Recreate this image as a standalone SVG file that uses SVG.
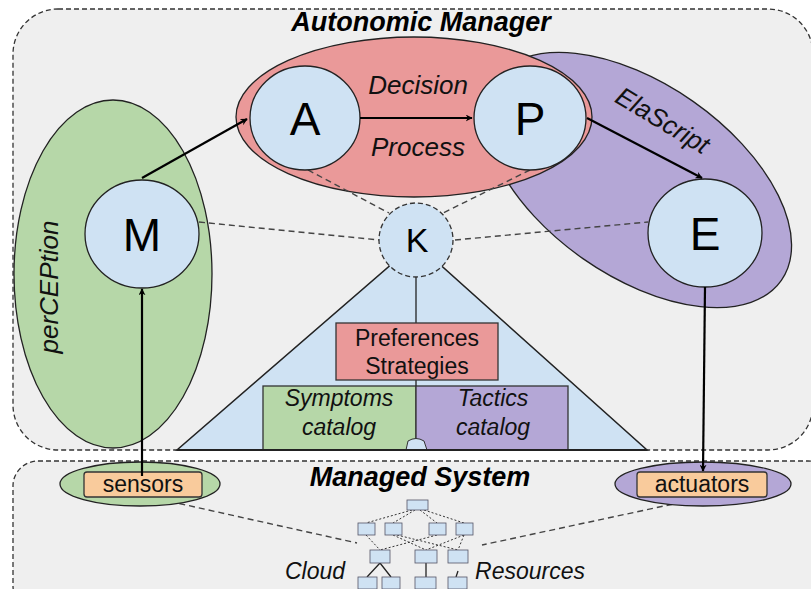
<svg xmlns="http://www.w3.org/2000/svg" width="811" height="589" viewBox="0 0 811 589">
<defs>
<marker id="ah" viewBox="0 0 10 10" refX="9" refY="5" markerWidth="7" markerHeight="7" markerUnits="userSpaceOnUse" orient="auto">
<path d="M0,0 L10,5 L0,10 L3,5 z" fill="#000"/>
</marker>
<style>
.box{fill:#efefef;stroke:#333;stroke-width:1.3;stroke-dasharray:5 3}
.title{font-family:"Liberation Sans",Arial,sans-serif;font-weight:bold;font-style:italic;font-size:27px;fill:#000;text-anchor:middle}
.lbl{font-family:"Liberation Sans",Arial,sans-serif;font-style:italic;font-size:26px;fill:#111;text-anchor:middle}
.sm{font-family:"Liberation Sans",Arial,sans-serif;font-size:23px;fill:#111;text-anchor:middle}
.smi{font-family:"Liberation Sans",Arial,sans-serif;font-style:italic;font-size:23px;fill:#111;text-anchor:middle}
.big{font-family:"Liberation Sans",Arial,sans-serif;font-size:46px;fill:#000;text-anchor:middle}
.node{fill:#cfe2f3;stroke:#222;stroke-width:1.3}
.dash{fill:none;stroke:#444;stroke-width:1.4;stroke-dasharray:6 4}
.arr{fill:none;stroke:#000;stroke-width:2.2;marker-end:url(#ah)}
.edge{fill:none;stroke:#222;stroke-width:1.3}
.tb{fill:#cfe2f3;stroke:#556;stroke-width:0.8}
.dot{fill:none;stroke:#333;stroke-width:1;stroke-dasharray:2 2}
</style>
</defs>
<rect width="811" height="589" fill="#fff"/>

<g id="autonomic-manager">
<rect class="box" x="13" y="9" width="800" height="441" rx="45"/>
<text class="title" x="421" y="31">Autonomic Manager</text>
</g>
<g id="managed-system">
<rect class="box" x="13" y="461" width="820" height="150" rx="25"/>
<text class="title" x="420" y="486">Managed System</text>
</g>

<g id="knowledge-base">
<path d="M416,243 L177,450 L647,450 Z" fill="#cfe2f3" stroke="#222" stroke-width="1.5"/>
<line class="edge" x1="416" y1="277" x2="416" y2="450"/>
</g>

<g id="perception">
<ellipse cx="113" cy="274" rx="99" ry="174" fill="#b6d7a8" stroke="#222" stroke-width="1.3"/>
<text class="lbl" transform="translate(58,287) rotate(-90)">perCEPtion</text>
</g>
<g id="elascript">
<ellipse cx="638" cy="180" rx="175" ry="96" transform="rotate(35 638 180)" fill="#b4a7d6" stroke="#222" stroke-width="1.3"/>
<text class="lbl" transform="translate(658,128) rotate(31)">ElaScript</text>
</g>
<g id="decision-process">
<ellipse cx="414" cy="117" rx="178" ry="80" fill="#ea9999" stroke="#222" stroke-width="1.3"/>
<text class="lbl" x="418" y="94">Decision</text>
<text class="lbl" x="418" y="156">Process</text>
</g>

<g id="connectors">
<line class="dash" x1="199" y1="222" x2="379" y2="240"/>
<line class="dash" x1="455" y1="240" x2="648" y2="222"/>
<line class="dash" x1="308" y1="170" x2="389" y2="213"/>
<line class="dash" x1="530" y1="170" x2="443" y2="213"/>
<line class="dash" x1="150" y1="497" x2="357" y2="543"/>
<line class="dash" x1="692" y1="500" x2="482" y2="545"/>
</g>

<g id="preferences">
<rect x="336" y="323" width="162" height="57" fill="#ea9999" stroke="#333" stroke-width="1.3"/>
<text class="sm" x="417" y="346">Preferences</text>
<text class="sm" x="417" y="374">Strategies</text>
</g>
<g id="symptoms">
<rect x="263" y="386" width="153" height="64" fill="#b6d7a8" stroke="#333" stroke-width="1.3"/>
<text class="smi" x="339" y="406">Symptoms</text>
<text class="smi" x="339" y="435">catalog</text>
</g>
<g id="tactics">
<rect x="416" y="386" width="152" height="64" fill="#b4a7d6" stroke="#333" stroke-width="1.3"/>
<text class="smi" x="493" y="406">Tactics</text>
<text class="smi" x="493" y="435">catalog</text>
</g>
<path d="M406,450 L408,441 Q416,436 424,441 L427,450" fill="#cfe2f3" stroke="#333" stroke-width="1"/>
<line x1="177" y1="450" x2="647" y2="450" stroke="#222" stroke-width="2"/>

<g id="K">
<circle cx="416" cy="240" r="37" fill="#cfe2f3" stroke="#333" stroke-width="1.3" stroke-dasharray="5 3"/>
<text x="417" y="252" font-family="Liberation Sans, Arial, sans-serif" font-size="34" text-anchor="middle">K</text>
</g>
<g id="M">
<ellipse class="node" cx="142" cy="234" rx="57" ry="54"/>
<text class="big" x="142" y="251">M</text>
</g>
<g id="A">
<ellipse class="node" cx="305" cy="118" rx="55" ry="52"/>
<text class="big" x="305" y="135">A</text>
</g>
<g id="P">
<ellipse class="node" cx="530" cy="118" rx="56" ry="52"/>
<text class="big" x="530" y="135">P</text>
</g>
<g id="E">
<ellipse class="node" cx="705" cy="233" rx="57" ry="54"/>
<text class="big" x="705" y="250">E</text>
</g>

<g id="sensors">
<ellipse cx="140" cy="484" rx="80" ry="22" fill="#b6d7a8" stroke="#222" stroke-width="1.3"/>
<rect x="84" y="472" width="118" height="25" rx="3" fill="#f9cb9c" stroke="#333" stroke-width="1.3"/>
<text class="sm" x="143" y="492">sensors</text>
</g>
<g id="actuators">
<ellipse cx="703" cy="484" rx="88" ry="22" fill="#b4a7d6" stroke="#222" stroke-width="1.3"/>
<rect x="637" y="472" width="130" height="25" rx="3" fill="#f9cb9c" stroke="#333" stroke-width="1.3"/>
<text class="sm" x="702" y="492">actuators</text>
</g>

<g id="arrows">
<line class="arr" x1="142" y1="178" x2="247" y2="119"/>
<line class="arr" x1="360" y1="118" x2="472" y2="118"/>
<line class="arr" x1="587" y1="118" x2="702" y2="178"/>
<line class="arr" x1="142" y1="476" x2="142" y2="289"/>
<line class="arr" x1="705" y1="287" x2="703" y2="471"/>
</g>

<g id="cloud-resources">
<g class="dot">
<path d="M412,510 L366,523 M415,510 L393,523 M420,510 L437,523 M424,510 L464,523"/>
<path d="M366,535 L380,550 M393,535 L426,550 M397,535 L458,550 M437,535 L380,550 M464,535 L426,550 M464,535 L458,550"/>
</g>
<g class="edge" stroke-width="0.9">
<path d="M380,563 L367,577 M380,563 L391,577 M426,563 L426,577 M458,571 L456,577"/>
</g>
<rect class="tb" x="407" y="500" width="21" height="10"/>
<rect class="tb" x="358" y="523" width="17" height="12"/>
<rect class="tb" x="385" y="523" width="17" height="12"/>
<rect class="tb" x="429" y="523" width="17" height="12"/>
<rect class="tb" x="456" y="523" width="17" height="12"/>
<rect class="tb" x="370" y="550" width="20" height="13"/>
<rect class="tb" x="415" y="550" width="22" height="13"/>
<rect class="tb" x="448" y="550" width="20" height="13"/>
<rect class="tb" x="358" y="577" width="19" height="12"/>
<rect class="tb" x="382" y="577" width="18" height="12"/>
<rect class="tb" x="415" y="577" width="21" height="12"/>
<rect class="tb" x="448" y="577" width="19" height="12"/>
<text class="smi" x="315" y="579">Cloud</text>
<text class="smi" x="530" y="579">Resources</text>
</g>
</svg>
